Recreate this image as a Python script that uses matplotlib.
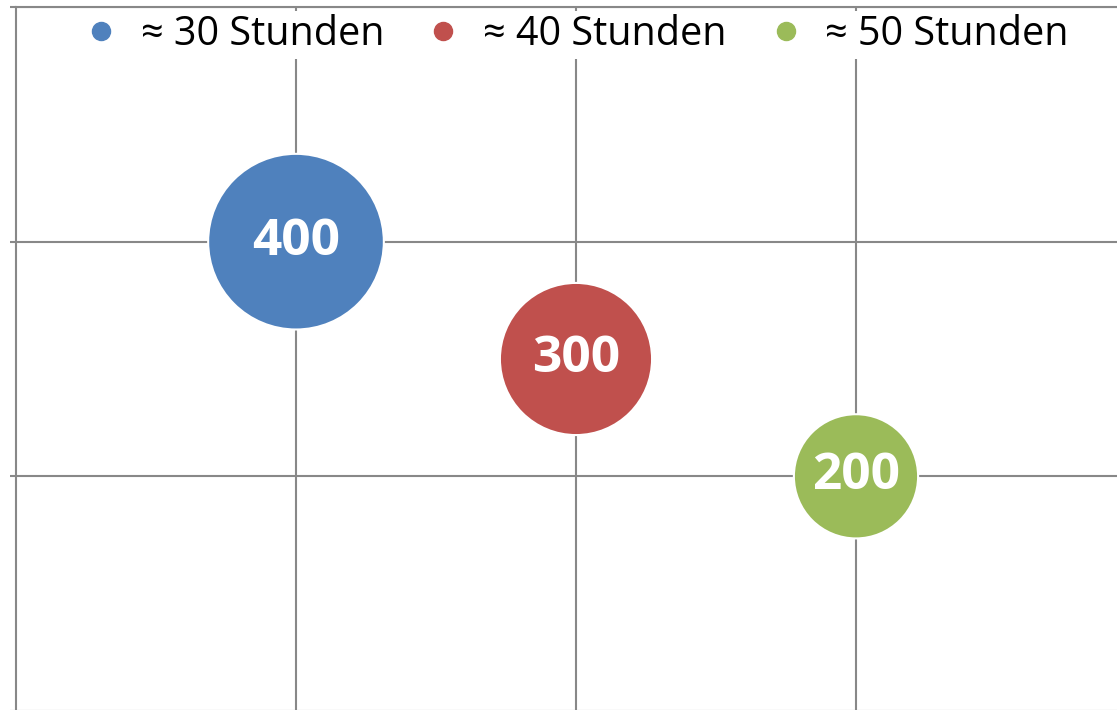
import matplotlib
matplotlib.use('Agg')
import matplotlib.pyplot as plt
from matplotlib.lines import Line2D

# data
labels = ['≈ 30 Stunden', '≈ 40 Stunden', '≈ 50 Stunden']
x_vals = [1, 2, 3]
y_vals = [2, 1.5, 1]
sizes = [400, 300, 200]
colors = ['#4F81BD', '#C0504D', '#9BBB59']

plt.rcParams['font.family'] = ['Open Sans', 'DejaVu Sans']
grid_col = '#888888'

fig = plt.figure(figsize=(11.17, 7.10), dpi=100)
# chart is cropped on the right and bottom, so the axes run past the figure edge
ax = fig.add_axes([16 / 1117, -1 / 710, 1120 / 1117, 704 / 710])
ax.set_xlim(0, 4)
ax.set_ylim(0, 3)

ax.scatter(x_vals, y_vals, s=[v * 40 for v in sizes], c=colors,
           edgecolors='white', linewidths=1.5, zorder=3)
for x, y, v in zip(x_vals, y_vals, sizes):
    ax.text(x, y, str(v), ha='center', va='center', color='white',
            fontsize=37, fontweight='bold', zorder=4)

ax.set_xticks([1, 2, 3])
ax.set_yticks([0, 1, 2, 3])
ax.set_xticklabels([])
ax.set_yticklabels([])
ax.tick_params(axis='x', length=0)
ax.tick_params(axis='y', length=4, width=1.5, color=grid_col, direction='out')
ax.grid(True, color=grid_col, lw=1.5)
ax.set_axisbelow(True)
for side in ['left', 'top']:
    ax.spines[side].set_color(grid_col)
    ax.spines[side].set_linewidth(1.5)
ax.spines['right'].set_visible(False)
ax.spines['bottom'].set_visible(False)

handles = [Line2D([0], [0], marker='o', ls='none', markersize=13,
                  markerfacecolor=c, markeredgecolor=c) for c in colors]
fig.legend(handles, labels, ncol=3, loc='upper center',
           bbox_to_anchor=(580 / 1117, 1 + 9 / 710), bbox_transform=fig.transFigure,
           fontsize=28.5, frameon=True, facecolor='white', edgecolor='none',
           framealpha=1, fancybox=False, handlelength=0.5, handletextpad=0.75,
           columnspacing=1.25, borderpad=0.1)

fig.savefig('out.png', dpi=100)
